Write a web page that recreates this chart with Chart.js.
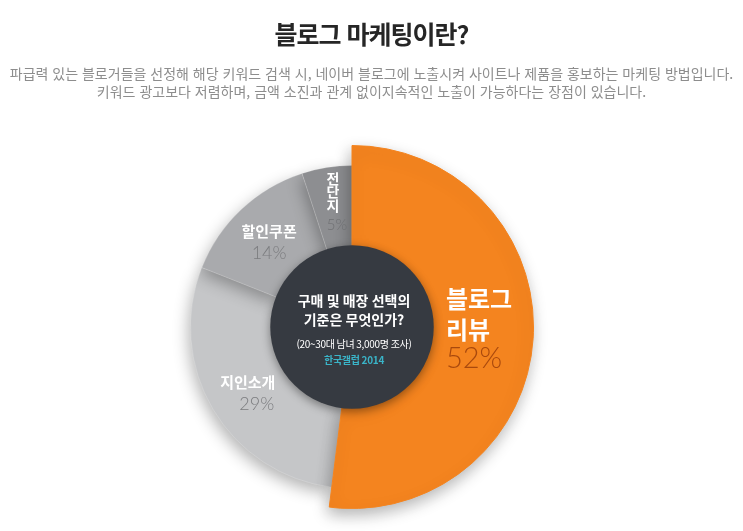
<!DOCTYPE html>
<html lang="ko">
<head>
<meta charset="utf-8">
<title>블로그 마케팅이란?</title>
<script src="https://cdn.jsdelivr.net/npm/chart.js@4.4.1/dist/chart.umd.min.js"></script>
<style>
  html, body { margin: 0; padding: 0; background: #fff; }
  .wrap { position: relative; width: 743px; height: 531px; overflow: hidden; }
  #chPie { position: absolute; left: 0; top: 0; }
  h1 {
    position: absolute; left: 0; top: 18px; width: 743px; margin: 0;
    text-align: center; color: #262626;
    font: 700 25px/30px "Noto Sans CJK KR", sans-serif; letter-spacing: -1px;
  }
  p.sub {
    position: absolute; left: 0; top: 64px; width: 743px; margin: 0;
    text-align: center; color: #8d8d8d;
    font: 400 14px/18px "Noto Sans CJK KR", sans-serif;
  }
</style>
</head>
<body>
<div class="wrap">
  <canvas id="chPie" width="743" height="531"></canvas>
  <h1>블로그 마케팅이란?</h1>
  <p class="sub">파급력 있는 블로거들을 선정해 해당 키워드 검색 시, 네이버 블로그에 노출시켜 사이트나 제품을 홍보하는 마케팅 방법입니다.<br>키워드 광고보다 저렴하며, 금액 소진과 관계 없이지속적인 노출이 가능하다는 장점이 있습니다.</p>
</div>
<script>
// data (clockwise, starting right after the orange slice ends)
var categories = ["지인소개", "할인쿠폰", "전단지", "블로그 리뷰"];
var shares = [29, 14, 5, 52];
var sliceColors = ["#c5c6c8", "#a9aaad", "#8d8e91", "#f4841f"];
var pctLabels = shares.map(function (v) { return v + "%"; });

// center text
var centerLines = ["구매 및 매장 선택의", "기준은 무엇인가?"];
var surveyNote = "(20~30대 남녀 3,000명 조사)";
var sourceNote = "한국갤럽 2014";

var total = shares.reduce(function (a, b) { return a + b; }, 0);
var leadIndex = shares.indexOf(Math.max.apply(null, shares));
var leadExtra = 20; // orange slice sticks out past the gray ring

var KR = "'Noto Sans CJK KR', 'Noto Sans', sans-serif";
var NUM = "Lato, 'Noto Sans', sans-serif";

// how each label sits around its slice anchor
var labelLook = [
  { font: "bold 15px " + KR, nameDy: -6, pct: "300 18px " + NUM, pctDy: 16, pctDx: 9, pctColor: "#7b7c7f" },
  { font: "bold 15px " + KR, nameDy: -7, pct: "300 18px " + NUM, pctDy: 14, pctDx: 0, pctColor: "#7b7c7f" },
  { font: "bold 14px " + KR, vertical: true, step: 13.5, nameDy: -29, pct: "300 15px " + NUM, pctDy: 18, pctDx: 4, pctColor: "#6f7073" },
  { font: "bold 24px " + KR, stacked: true, step: 31, dx: -27, nameDy: -36, pct: "300 29px " + NUM, pctDy: 24, pctDx: 0, pctColor: "#a9490d" },
];

var pieDecor = {
  id: "pieDecor",
  beforeDatasetsDraw: function (chart) {
    var meta = chart.getDatasetMeta(0);
    meta.data[leadIndex].outerRadius = meta.controller.outerRadius + leadExtra;
  },
  beforeDatasetDraw: function (chart) {
    var ctx = chart.ctx;
    ctx.save();
    ctx.shadowColor = "rgba(0,0,0,0.3)";
    ctx.shadowBlur = 16;
    ctx.shadowOffsetX = -2;
    ctx.shadowOffsetY = 6;
  },
  afterDatasetDraw: function (chart) {
    chart.ctx.restore();
  },
  afterDatasetsDraw: function (chart) {
    var ctx = chart.ctx;
    var meta = chart.getDatasetMeta(0);
    var first = meta.data[0];
    var cx = first.x, cy = first.y;
    var inner = meta.controller.innerRadius;
    var outer = meta.controller.outerRadius;

    // dark center disc
    ctx.save();
    ctx.shadowColor = "rgba(0,0,0,0.4)";
    ctx.shadowBlur = 10;
    ctx.shadowOffsetY = 3;
    ctx.beginPath();
    ctx.arc(cx, cy, inner + 1, 0, Math.PI * 2);
    ctx.fillStyle = "#363a41";
    ctx.fill();
    ctx.restore();

    ctx.save();
    ctx.textAlign = "center";
    ctx.textBaseline = "middle";
    ctx.fillStyle = "#ffffff";
    ctx.font = "bold 14px " + KR;
    ctx.fillText(centerLines[0], cx + 2, cy - 26);
    ctx.fillText(centerLines[1], cx + 2, cy - 7);
    ctx.font = "10px " + KR;
    ctx.letterSpacing = "-0.3px";
    ctx.fillText(surveyNote, cx + 2, cy + 17);
    ctx.fillStyle = "#3ab4c8";
    ctx.font = "bold 10px " + KR;
    ctx.fillText(sourceNote, cx + 2, cy + 33);
    ctx.restore();

    // slice labels
    var r = (inner + outer) / 2;
    meta.data.forEach(function (arc, i) {
      var look = labelLook[i];
      var mid = (arc.startAngle + arc.endAngle) / 2;
      var ax = arc.x + Math.cos(mid) * r + (look.dx || 0);
      var ay = arc.y + Math.sin(mid) * r;
      ctx.save();
      ctx.textBaseline = "middle";
      ctx.textAlign = look.stacked ? "left" : "center";
      ctx.fillStyle = "#ffffff";
      ctx.font = look.font;
      if (look.vertical) {
        Array.from(categories[i]).forEach(function (ch, k) {
          ctx.fillText(ch, ax, ay + look.nameDy + k * look.step);
        });
      } else if (look.stacked) {
        categories[i].split(" ").forEach(function (part, k) {
          ctx.fillText(part, ax, ay + look.nameDy + k * look.step);
        });
      } else {
        ctx.fillText(categories[i], ax, ay + look.nameDy);
      }
      ctx.font = look.pct;
      ctx.fillStyle = look.pctColor;
      ctx.fillText(pctLabels[i], ax + look.pctDx, ay + look.pctDy);
      ctx.restore();
    });
  },
};

var chPie = document.getElementById("chPie");
if (chPie) {
  this.c1 = new Chart(chPie, {
    type: "doughnut",
    data: {
      labels: categories,
      datasets: [
        {
          data: shares,
          backgroundColor: sliceColors,
          borderColor: sliceColors.map(function (c, i) {
            return i === leadIndex ? c : "rgba(255,255,255,0.18)";
          }),
          borderWidth: 1,
        },
      ],
    },
    options: {
      responsive: false,
      animation: false,
      events: [],
      rotation: (360 * shares[leadIndex]) / total,
      cutout: "50%",
      layout: { padding: { top: 165, bottom: 42, left: 0, right: 39 } },
      plugins: {
        legend: { display: false },
        tooltip: { enabled: false },
      },
    },
    plugins: [pieDecor],
  });
}
</script>
</body>
</html>
